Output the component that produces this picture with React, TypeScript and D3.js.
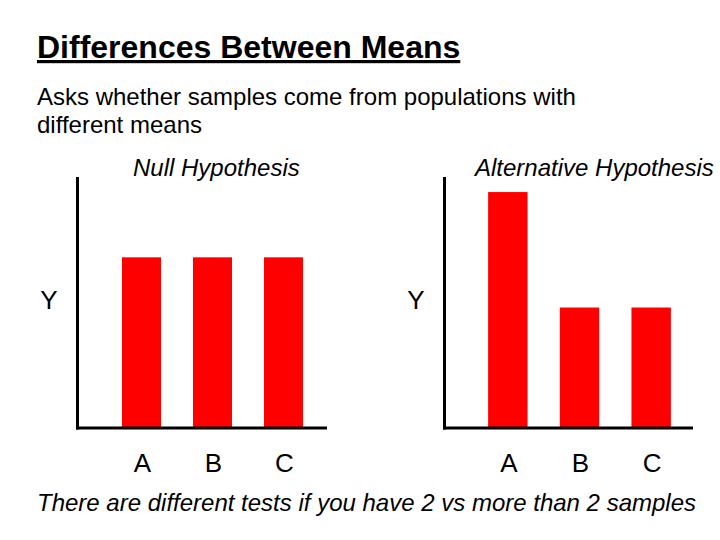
import React from "react";
import * as d3 from "d3";

const categories = ["A", "B", "C"];
const nullValues = [6.8, 6.8, 6.8];
const altValues = [9.4, 4.8, 4.8];

const W = 720;
const H = 540;
const FONT = "'Liberation Sans', Arial, sans-serif";

function Panel({ values, axisX, axisEnd, bandRange, title, titleX }: any) {
  const y = d3.scaleLinear().domain([0, 10]).range([428, 177]);
  const x = d3.scaleBand<string>().domain(categories).range(bandRange).paddingInner(0.45).paddingOuter(0.225);
  return (
    <g>
      <text x={titleX} y={176} fontFamily={FONT} fontSize={24} fontStyle="italic">{title}</text>
      {values.map((v: number, i: number) => (
        <rect key={i} x={x(categories[i])} y={y(v)} width={x.bandwidth()} height={y(0) - y(v)} fill="#ff0000" />
      ))}
      <line x1={axisX} x2={axisX} y1={y(10)} y2={y(0) + 1.5} stroke="#000" strokeWidth={3} />
      <line x1={axisX - 1.5} x2={axisEnd} y1={y(0)} y2={y(0)} stroke="#000" strokeWidth={3} />
      {categories.map((c) => (
        <text key={c} x={(x(c) as number) + x.bandwidth() / 2 + 1} y={472} fontFamily={FONT} fontSize={26} textAnchor="middle">{c}</text>
      ))}
    </g>
  );
}

export default function App() {
  return (
    <svg width={W} height={H} style={{ position: "absolute", left: 0, top: 0, background: "#fff" }}>
      <rect width={W} height={H} fill="#fff" />
      <text x={37} y={58} fontFamily={FONT} fontSize={32} fontWeight="bold" textDecoration="underline">Differences Between Means</text>
      <text x={37} y={105} fontFamily={FONT} fontSize={24}>Asks whether samples come from populations with</text>
      <text x={37} y={133} fontFamily={FONT} fontSize={24}>different means</text>
      <Panel values={nullValues} axisX={77.5} axisEnd={327} bandRange={[106, 319]} title="Null Hypothesis" titleX={133} />
      <Panel values={altValues} axisX={444.5} axisEnd={693} bandRange={[472, 687]} title="Alternative Hypothesis" titleX={475} />
      <text x={49} y={309} fontFamily={FONT} fontSize={26} textAnchor="middle">Y</text>
      <text x={416} y={309} fontFamily={FONT} fontSize={26} textAnchor="middle">Y</text>
      <text x={37} y={511} fontFamily={FONT} fontSize={24} fontStyle="italic">There are different tests if you have 2 vs more than 2 samples</text>
    </svg>
  );
}
